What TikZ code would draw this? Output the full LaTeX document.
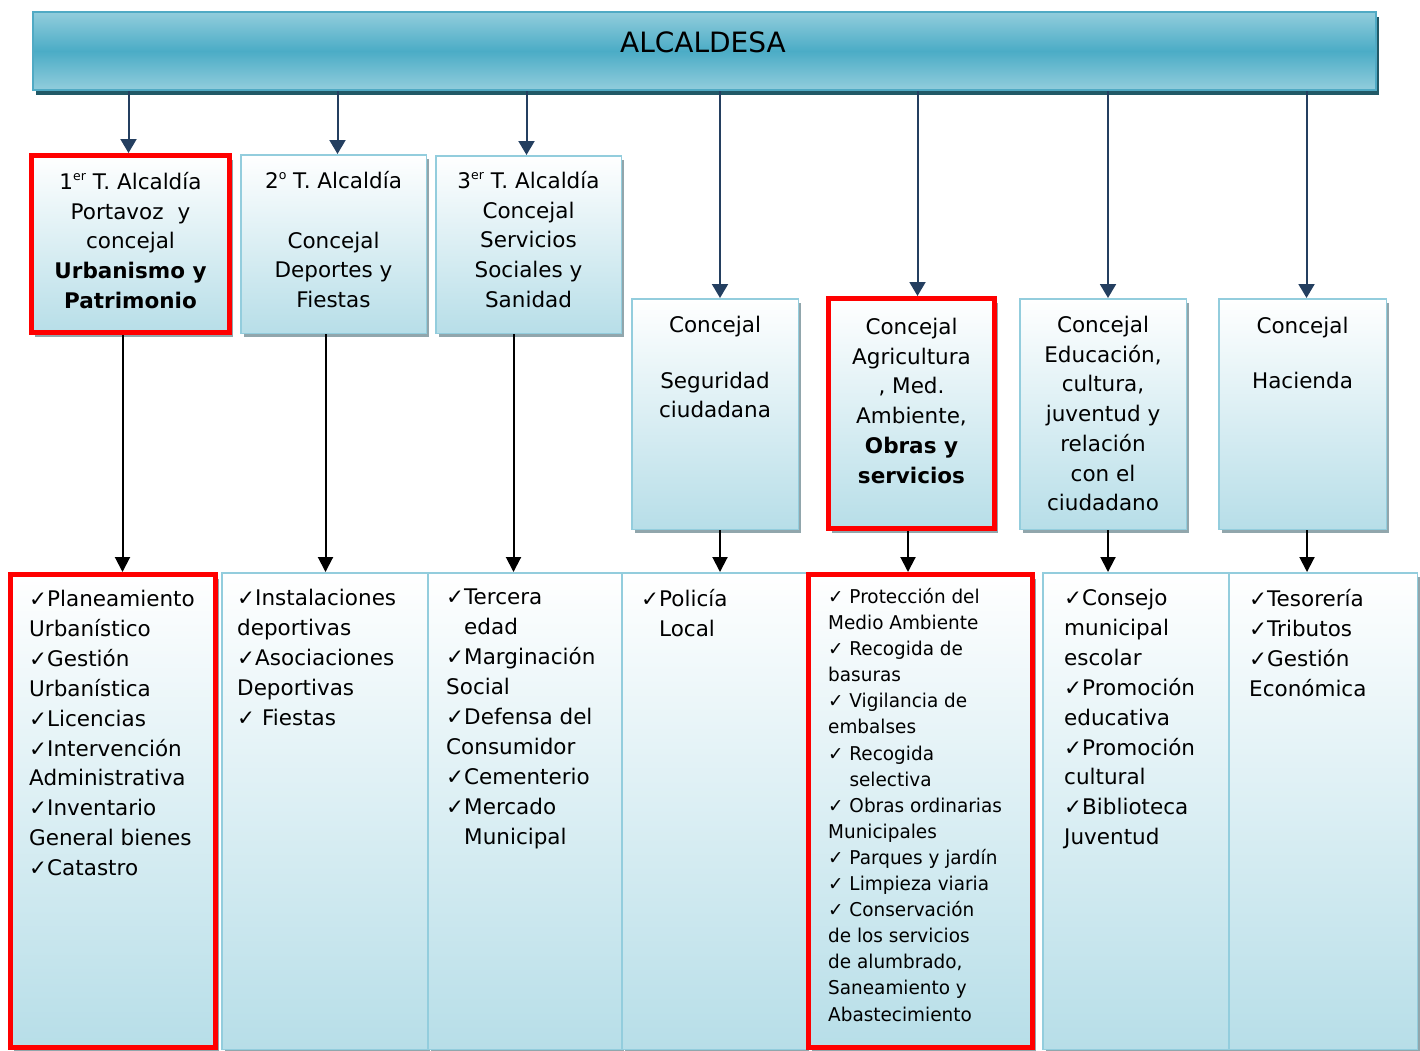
\documentclass[tikz,border=0pt]{standalone}
\usepackage{fontspec}
\setmainfont{DejaVu Sans}
\newfontfamily\narrowfont[FakeStretch=0.97]{DejaVu Sans}
\usetikzlibrary{arrows.meta,shadows,calc}

\definecolor{aqua}{RGB}{75,172,198}
\definecolor{aqualight}{RGB}{146,205,220}
\definecolor{aquadark}{RGB}{80,170,196}
\definecolor{aquapale}{RGB}{183,222,232}
\definecolor{aquaborder}{RGB}{147,205,221}
\definecolor{navy}{RGB}{36,63,96}
\definecolor{barshadow}{RGB}{33,89,103}
\definecolor{hatch}{RGB}{145,166,172}

\newcommand{\chk}{✓}
\newcommand{\sups}[1]{\smash{\raisebox{8.5pt}{\fontsize{12.5}{12.5}\selectfont #1}}}

\begin{document}
\begin{tikzpicture}[x=1pt, y=-1pt,
    every node/.style={inner sep=0pt},
    bar/.style={draw=aquadark, line width=2pt, top color=aqualight, bottom color=aqualight, middle color=aqua,
        general shadow={shadow xshift=2.5pt, shadow yshift=-4.5pt, fill=barshadow}, anchor=north west},
    pane/.style={draw=aquaborder, line width=1.5pt, top color=white, bottom color=aquapale,
        general shadow={shadow xshift=3pt, shadow yshift=-4pt, fill=hatch}, anchor=north west},
    redpane/.style={pane, draw=red, line width=5pt},
    uptext/.style={anchor=north, align=center, font=\fontsize{21.5}{29.7}\selectfont},
    listtext/.style={anchor=north west, align=left, font=\fontsize{21.5}{29.9}\selectfont},
    navyarrow/.style={navy, line width=2pt, -{Triangle[width=16pt,length=14pt]}},
    blackarrow/.style={black, line width=2pt, -{Triangle[width=15pt,length=15pt]}}]

\useasboundingbox (0,0) rectangle (1420,1050);

% alcaldesa
\node[bar, minimum width=1343pt, minimum height=78pt] (top) at (32,11) {};
\node[font=\fontsize{28}{34}\selectfont] (ttl) at (703,42) {ALCALDESA};

% tenientes y concejales
\node[redpane, minimum width=198pt, minimum height=177pt] (u1) at (29,153) {};
\node[pane, minimum width=185.5pt, minimum height=178.5pt] (u2) at (240,154) {};
\node[pane, minimum width=185.5pt, minimum height=177.5pt] (u3) at (435,155) {};
\node[pane, minimum width=166.5pt, minimum height=230.5pt] (u4) at (631,298) {};
\node[redpane, minimum width=166pt, minimum height=230pt] (u5) at (826,296) {};
\node[pane, minimum width=166.5pt, minimum height=230.5pt] (u6) at (1019,298) {};
\node[pane, minimum width=167.5pt, minimum height=230.5pt] (u7) at (1218,298) {};

\node[uptext] (u1t) at ([yshift=-19pt]u1.north) {1\sups{er} T. Alcaldía\\Portavoz\hspace{14pt}y\\concejal\\\textbf{Urbanismo y}\\\textbf{Patrimonio}};
\node[uptext] (u2t) at ([yshift=-17pt]u2.north) {2\sups{o} T. Alcaldía\\[30pt]Concejal\\Deportes y\\Fiestas};
\node[uptext] (u3t) at ([yshift=-16pt]u3.north) {3\sups{er} T. Alcaldía\\Concejal\\Servicios\\Sociales y\\Sanidad};
\node[uptext] (u4t) at ([yshift=-18pt]u4.north) {Concejal\\[26pt]Seguridad\\ciudadana};
\node[uptext] (u5t) at ([yshift=-22pt]u5.north) {Concejal\\Agricultura\\, Med.\\Ambiente,\\\textbf{Obras y}\\\textbf{servicios}};
\node[uptext] (u6t) at ([yshift=-18pt]u6.north) {Concejal\\Educación,\\cultura,\\juventud y\\relación\\con el\\ciudadano};
\node[uptext] (u7t) at ([yshift=-19pt]u7.north) {Concejal\\[25pt]Hacienda};

% areas
\node[redpane, minimum width=205pt, minimum height=473pt] (b1) at (8,572) {};
\node[pane, minimum width=205.5pt, minimum height=476.5pt] (b2) at (221,572) {};
\node[pane, minimum width=193.5pt, minimum height=476.5pt] (b3) at (427,572) {};
\node[pane, minimum width=184.5pt, minimum height=476.5pt] (b4) at (621,572) {};
\node[redpane, minimum width=224pt, minimum height=473pt] (b5) at (806,572) {};
\node[pane, minimum width=186.5pt, minimum height=476.5pt] (b6) at (1042,572) {};
\node[pane, minimum width=188.5pt, minimum height=476.5pt] (b7) at (1228,572) {};

\node[listtext] (b1t) at (29,590) {\chk Planeamiento\\Urbanístico\\\chk Gestión\\Urbanística\\\chk Licencias\\\chk Intervención\\Administrativa\\\chk Inventario\\General bienes\\\chk Catastro};
\node[listtext] (b2t) at (237,589) {\chk Instalaciones\\deportivas\\\chk Asociaciones\\Deportivas\\\chk\ Fiestas};
\node[listtext] (b3t) at (446,589) {\chk Tercera\\\hphantom{\chk}edad\\\chk Marginación\\Social\\\chk Defensa del\\Consumidor\\\chk Cementerio\\\chk Mercado\\\hphantom{\chk}Municipal};
\node[listtext] (b4t) at (641,589) {\chk Policía\\\hphantom{\chk}Local};
\node[listtext, font=\narrowfont\fontsize{19}{26.1}\selectfont] (b5t) at (828,588) {\chk{} Protección del\\Medio Ambiente\\\chk{} Recogida de\\basuras\\\chk{} Vigilancia de\\embalses\\\chk{} Recogida\\\hphantom{\chk{} }selectiva\\\chk{} Obras ordinarias\\Municipales\\\chk{} Parques y jardín\\\chk{} Limpieza viaria\\\chk{} Conservación\\de los servicios\\de alumbrado,\\Saneamiento y\\Abastecimiento};
\node[listtext] (b6t) at (1064,589) {\chk Consejo\\municipal\\escolar\\\chk Promoción\\educativa\\\chk Promoción\\cultural\\\chk Biblioteca\\Juventud};
\node[listtext] (b7t) at (1249,589) {\chk Tesorería\\\chk Tributos\\\chk Gestión\\Económica};

% flechas
\foreach \n/\dx in {u1/-2, u2/4, u3/-2, u4/5, u5/6, u6/5, u7/4}
    \draw[navyarrow] ([xshift=\dx pt]\n.north |- top.south) -- ([xshift=\dx pt]\n.north);
\foreach \n/\m/\dx in {u1/b1/-8, u2/b2/-8, u3/b3/-15, u4/b4/5, u5/b5/-3.5, u6/b6/5, u7/b7/4.5}
    \draw[blackarrow] ([xshift=\dx pt]\n.south) -- ([xshift=\dx pt]\n.south |- \m.north);
\end{tikzpicture}
\end{document}
